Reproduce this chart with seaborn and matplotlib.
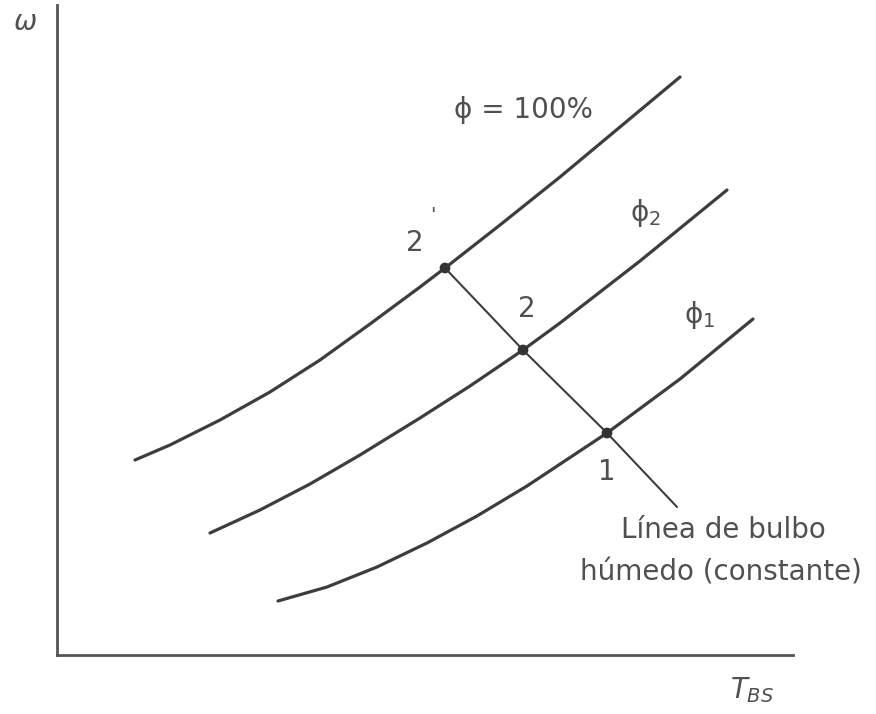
import numpy as np
import pandas as pd
import matplotlib
matplotlib.use("Agg")
import matplotlib.pyplot as plt
import seaborn as sns

# =========================
# DATA (arbitrary units)
# =========================
t_100 = [78, 113, 163, 213, 263, 313, 363, 388, 443, 503, 563, 623]
w_100 = [195, 210, 235, 263, 295, 331, 368, 387, 430, 478, 528, 578]

t_phi2 = [153, 203, 253, 303, 363, 413, 466, 503, 583, 670]
w_phi2 = [122, 145, 171, 200, 237, 269, 305, 332, 394, 465]

t_phi1 = [221, 270, 320, 370, 420, 470, 550, 623, 696]
w_phi1 = [54, 68, 88, 112, 139, 169, 222, 276, 336]

# constant wet-bulb line
t_wb = [388, 466, 550, 620]
w_wb = [387, 305, 222, 148]

# state points 2', 2, 1
pt_names = ["2'", "2", "1"]
pt_t = [388, 466, 550]
pt_w = [387, 305, 222]

curves = pd.concat([
    pd.DataFrame({"t": t_100, "w": w_100, "curve": "phi100"}),
    pd.DataFrame({"t": t_phi2, "w": w_phi2, "curve": "phi2"}),
    pd.DataFrame({"t": t_phi1, "w": w_phi1, "curve": "phi1"}),
])

# =========================
# STYLE
# =========================
sns.set_theme(style="white")
plt.rcParams["font.family"] = ["DejaVu Sans"]
plt.rcParams["mathtext.fontset"] = "dejavusans"

line_col = "#3d3d3d"
text_col = "#505050"

fig = plt.figure(figsize=(8.76, 7.14), dpi=100)
ax = fig.add_axes([57 / 876, 59 / 714, 736 / 876, 650 / 714])

sns.lineplot(data=curves, x="t", y="w", units="curve", estimator=None,
             sort=False, color=line_col, linewidth=2.3, ax=ax)
sns.lineplot(x=t_wb, y=w_wb, sort=False, color=line_col, linewidth=1.5, ax=ax)
sns.scatterplot(x=pt_t, y=pt_w, color="#333333", s=60, marker="o",
                edgecolor="none", zorder=5, ax=ax)

ax.set_xlim(0, 736)
ax.set_ylim(0, 650)
ax.set_xticks([])
ax.set_yticks([])
ax.set_xlabel("")
ax.set_ylabel("")
for side in ["top", "right"]:
    ax.spines[side].set_visible(False)
for side in ["left", "bottom"]:
    ax.spines[side].set_color("#555555")
    ax.spines[side].set_linewidth(2.0)

fs = 20
ax.text(466, 545, "\u03d5 = 100%", fontsize=fs, color=text_col, ha="center", va="center")
ax.text(588, 442, "\u03d5$_2$", fontsize=fs, color=text_col, ha="center", va="center")
ax.text(643, 340, "\u03d5$_1$", fontsize=fs, color=text_col, ha="center", va="center")
ax.text(358, 412, "2", fontsize=fs, color=text_col, ha="center", va="center")
ax.text(376, 440, "'", fontsize=14, color=text_col, ha="center", va="center")
ax.text(470, 346, "2", fontsize=fs, color=text_col, ha="center", va="center")
ax.text(550, 183, "1", fontsize=fs, color=text_col, ha="center", va="center")
ax.text(666, 125, "L\u00ednea de bulbo", fontsize=fs, color=text_col, ha="center", va="center")
ax.text(664, 82, "h\u00famedo (constante)", fontsize=fs, color=text_col, ha="center", va="center")
ax.text(-32, 633, "\u03c9", fontsize=fs, style="italic", color=text_col,
        ha="center", va="center", clip_on=False)
ax.text(695, -35, "$T_{BS}$", fontsize=fs, color=text_col,
        ha="center", va="center", clip_on=False)

fig.savefig("out.png", dpi=100)
